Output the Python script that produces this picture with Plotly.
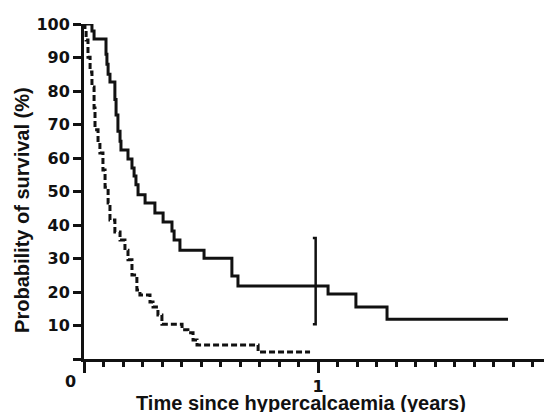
import plotly.graph_objects as go

# ---- data ----
# solid curve (Kaplan-Meier step points: time in years, survival %)
solid_time = [0, 0.034, 0.043, 0.094, 0.098, 0.103, 0.111, 0.132, 0.137, 0.145, 0.154, 0.158,
              0.188, 0.205, 0.214, 0.222, 0.231, 0.261, 0.303, 0.338, 0.376, 0.385, 0.41,
              0.513, 0.632, 0.658, 1.043, 1.162, 1.295, 1.812]
solid_surv = [100, 97.9, 95.5, 91.0, 88.0, 85.0, 82.7, 77.5, 72.8, 68.0, 65.0, 62.4,
              59.7, 57.0, 54.6, 52.0, 49.0, 46.6, 43.6, 40.9, 38.2, 35.5, 32.5,
              30.1, 24.8, 21.8, 19.4, 15.5, 11.9, 11.9]

# dashed curve
dashed_time = [0, 0.004, 0.009, 0.017, 0.026, 0.034, 0.043, 0.047, 0.06, 0.068, 0.081, 0.09,
               0.103, 0.111, 0.132, 0.154, 0.175, 0.188, 0.205, 0.226, 0.239, 0.282, 0.295,
               0.316, 0.333, 0.419, 0.444, 0.466, 0.483, 0.744, 0.966]
dashed_surv = [100, 98.2, 95.2, 90.1, 85.7, 81.2, 74.9, 68.4, 64.5, 61.5, 56.4, 51.3,
               46.6, 41.5, 37.9, 35.5, 32.5, 29.6, 25.1, 20.6, 19.1, 17.0, 15.5,
               13.1, 10.4, 8.7, 7.8, 5.7, 4.2, 2.1, 2.1]

# confidence interval bar at 1 year (solid curve)
ci_time = 0.99
ci_low = 10.4
ci_high = 36.1
ci_hook = 0.012

y_tick_vals = [0, 10, 20, 30, 40, 50, 60, 70, 80, 90, 100]
y_tick_text = ["", "10", "20", "30", "40", "50", "60", "70", "80", "90", "100"]
x_tick_vals = [0, 1, 2]
x_tick_text = ["0", "1", "2"]

x_title = "Time since hypercalcaemia (years)"
y_title = "Probability of survival (%)"

TICK_FONT = "DejaVu Sans, Verdana, sans-serif"
TITLE_FONT = "Liberation Sans, Arial, sans-serif"
INK = "#111111"
TICK_SIZE = 16
TITLE_SIZE = 20

fig = go.Figure()

fig.add_trace(go.Scatter(
    x=solid_time, y=solid_surv, mode="lines", line=dict(color=INK, width=3, shape="hv"),
    cliponaxis=False, showlegend=False))

fig.add_trace(go.Scatter(
    x=dashed_time, y=dashed_surv, mode="lines",
    line=dict(color=INK, width=3, shape="hv", dash="6px,3px"),
    cliponaxis=False, showlegend=False))

fig.add_trace(go.Scatter(
    x=[ci_time - ci_hook, ci_time, ci_time, ci_time - ci_hook],
    y=[ci_high, ci_high, ci_low, ci_low], mode="lines",
    line=dict(color=INK, width=2.5), cliponaxis=False, showlegend=False))

# the page body adds an 8px margin, so the figure is sized to fit inside the window
fig.update_layout(
    width=544, height=404,
    margin=dict(l=76, r=0, t=16, b=53, autoexpand=False),
    paper_bgcolor="white", plot_bgcolor="white",
    font=dict(family=TICK_FONT, color=INK, size=TICK_SIZE, weight="bold"),
    showlegend=False,
)

fig.update_xaxes(
    range=[0, 2], showgrid=False, zeroline=False, automargin=False,
    showline=True, linecolor=INK, linewidth=3,
    tickmode="array", tickvals=x_tick_vals, ticktext=[""] + x_tick_text[1:],
    ticks="outside", ticklen=11, tickwidth=2.5, tickcolor=INK,
    tickfont=dict(family=TICK_FONT, size=TICK_SIZE, color=INK, weight="bold"),
    ticklabeloverflow="allow",
    minor=dict(dtick=1 / 12, tick0=0, ticks="outside", ticklen=5, tickwidth=2.5, tickcolor=INK),
)

fig.update_yaxes(
    range=[0, 100], showgrid=False, zeroline=False, automargin=False,
    showline=True, linecolor=INK, linewidth=3,
    tickmode="array", tickvals=y_tick_vals, ticktext=y_tick_text,
    ticks="outside", ticklen=8, tickwidth=2.5, tickcolor=INK,
    tickfont=dict(family=TICK_FONT, size=TICK_SIZE, color=INK, weight="bold"),
)

# origin label
fig.add_annotation(text=x_tick_text[0], xref="paper", yref="paper",
                   x=-0.0299, y=-0.0657, showarrow=False,
                   font=dict(family=TICK_FONT, size=TICK_SIZE, color=INK, weight="bold"),
                   xanchor="center", yanchor="middle")

fig.add_annotation(text=x_title, xref="paper", yref="paper",
                   x=0.4637, y=-0.131, showarrow=False,
                   font=dict(family=TITLE_FONT, size=TITLE_SIZE, color=INK, weight="bold"),
                   xanchor="center", yanchor="middle")

fig.add_annotation(text=y_title, xref="paper", yref="paper",
                   x=-0.1325, y=0.445, showarrow=False, textangle=-90,
                   font=dict(family=TITLE_FONT, size=TITLE_SIZE, color=INK, weight="bold"),
                   xanchor="center", yanchor="middle")

fig.write_html("out.html")
